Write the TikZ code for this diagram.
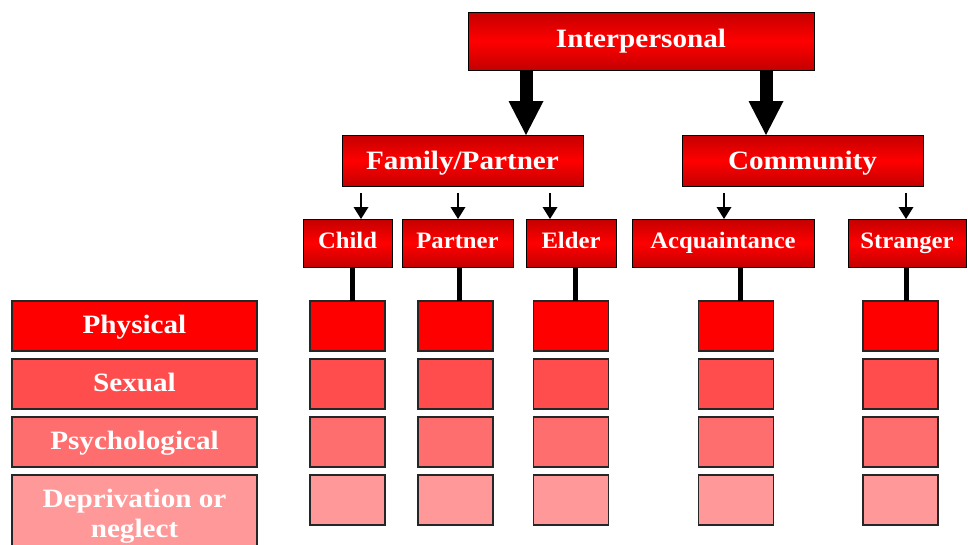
\documentclass[tikz,border=0pt]{standalone}
\usepackage{fontspec}
\newfontfamily\mainlbl[FakeStretch=1.1]{Liberation Serif}
\newfontfamily\smalllbl[FakeStretch=1.05]{Liberation Serif}
\usetikzlibrary{arrows.meta}
\definecolor{dred}{RGB}{196,0,0}
\definecolor{rowA}{RGB}{255,0,0}
\definecolor{rowB}{RGB}{255,77,77}
\definecolor{rowC}{RGB}{255,110,110}
\definecolor{rowD}{RGB}{255,153,153}
\begin{document}
\begin{tikzpicture}[x=1pt,y=-1pt,
  gbox/.style={draw=black, line width=1pt, top color=dred, bottom color=dred, middle color=red,
    text=white, inner sep=0pt, outer sep=0pt},
  bigfont/.style={font=\mainlbl\bfseries\fontsize{26.5}{30}\selectfont},
  smallfont/.style={font=\smalllbl\bfseries\fontsize{23.5}{28}\selectfont},
  topalign/.style={text height=18pt, text depth=6pt},
  lvltwoalign/.style={text height=18pt, text depth=1pt},
  midalign/.style={text height=18pt, text depth=4pt},
  lowalign/.style={text height=16pt, text depth=6pt},
  mbox/.style={draw=black!85, line width=1.6pt, inner sep=0pt, outer sep=0pt, text=white,
    minimum height=50pt},
  bigarr/.style={line width=13pt, -{Triangle[width=35pt,length=34pt,line width=0pt]}},
  smallarr/.style={line width=2pt, -{Triangle[width=15pt,length=12pt,line width=0pt]}},
  conn/.style={line width=5pt, black}]
\useasboundingbox (0,0) rectangle (968,544);
\fill[white] (0,0) rectangle (968,544);

% level 1
\node[gbox, bigfont, topalign, minimum width=346pt, minimum height=58pt] (inter) at (641,41) {Interpersonal};
% level 2
\node[gbox, bigfont, lvltwoalign, minimum width=241pt, minimum height=51pt] (fam) at (462.5,160.5) {Family/Partner};
\node[gbox, bigfont, lvltwoalign, minimum width=241pt, minimum height=51pt] (com) at (802.5,160.5) {Community};
% level 3
\node[gbox, smallfont, lowalign, minimum width=89pt, minimum height=48pt] (child) at (347.5,243) {Child};
\node[gbox, smallfont, lowalign, minimum width=111pt, minimum height=48pt] (partner) at (457.5,243) {Partner};
\node[gbox, smallfont, lowalign, minimum width=90pt, minimum height=48pt] (elder) at (571,243) {Elder};
\node[gbox, smallfont, lowalign, minimum width=182pt, minimum height=48pt] (acq) at (723,243) {Acquaintance};
\node[gbox, smallfont, lowalign, minimum width=118pt, minimum height=48pt] (str) at (907,243) {Stranger};

% big arrows
\coordinate (b1) at (526,0);
\coordinate (b2) at (766,0);
\draw[bigarr] (b1 |- inter.south) -- (b1 |- fam.north);
\draw[bigarr] (b2 |- inter.south) -- (b2 |- com.north);

% small arrows
\coordinate (s1) at (361,193);
\coordinate (s2) at (458,193);
\coordinate (s3) at (550,193);
\coordinate (s4) at (724,193);
\coordinate (s5) at (906,193);
\draw[smallarr] (s1) -- (s1 |- child.north);
\draw[smallarr] (s2) -- (s2 |- partner.north);
\draw[smallarr] (s3) -- (s3 |- elder.north);
\draw[smallarr] (s4) -- (s4 |- acq.north);
\draw[smallarr] (s5) -- (s5 |- str.north);

% matrix rows labels
\node[mbox, bigfont, midalign, fill=rowA, minimum width=245pt] (lab1) at (134.5,326) {Physical};
\node[mbox, bigfont, midalign, fill=rowB, minimum width=245pt] (lab2) at (134.5,384) {Sexual};
\node[mbox, bigfont, midalign, fill=rowC, minimum width=245pt] (lab3) at (134.5,442) {Psychological};
\node[mbox, bigfont, fill=rowD, minimum width=245pt, minimum height=82pt, align=center] (lab4) at (134.5,516) {Deprivation or\\neglect};

% matrix cells
\foreach \c/\x in {1/347.5, 2/455.5, 3/571, 4/736, 5/900.5}{
  \node[mbox, fill=rowA, minimum width=75pt] (m-\c-1) at (\x,326) {};
  \node[mbox, fill=rowB, minimum width=75pt] (m-\c-2) at (\x,384) {};
  \node[mbox, fill=rowC, minimum width=75pt] (m-\c-3) at (\x,442) {};
  \node[mbox, fill=rowD, minimum width=75pt] (m-\c-4) at (\x,500) {};
}

% connectors to matrix
\coordinate (v1) at (352.5,0);
\coordinate (v2) at (459,0);
\coordinate (v3) at (575,0);
\coordinate (v4) at (740,0);
\coordinate (v5) at (906,0);
\draw[conn] (v1 |- child.south) -- (v1 |- m-1-1.north);
\draw[conn] (v2 |- partner.south) -- (v2 |- m-2-1.north);
\draw[conn] (v3 |- elder.south) -- (v3 |- m-3-1.north);
\draw[conn] (v4 |- acq.south) -- (v4 |- m-4-1.north);
\draw[conn] (v5 |- str.south) -- (v5 |- m-5-1.north);
\end{tikzpicture}
\end{document}
